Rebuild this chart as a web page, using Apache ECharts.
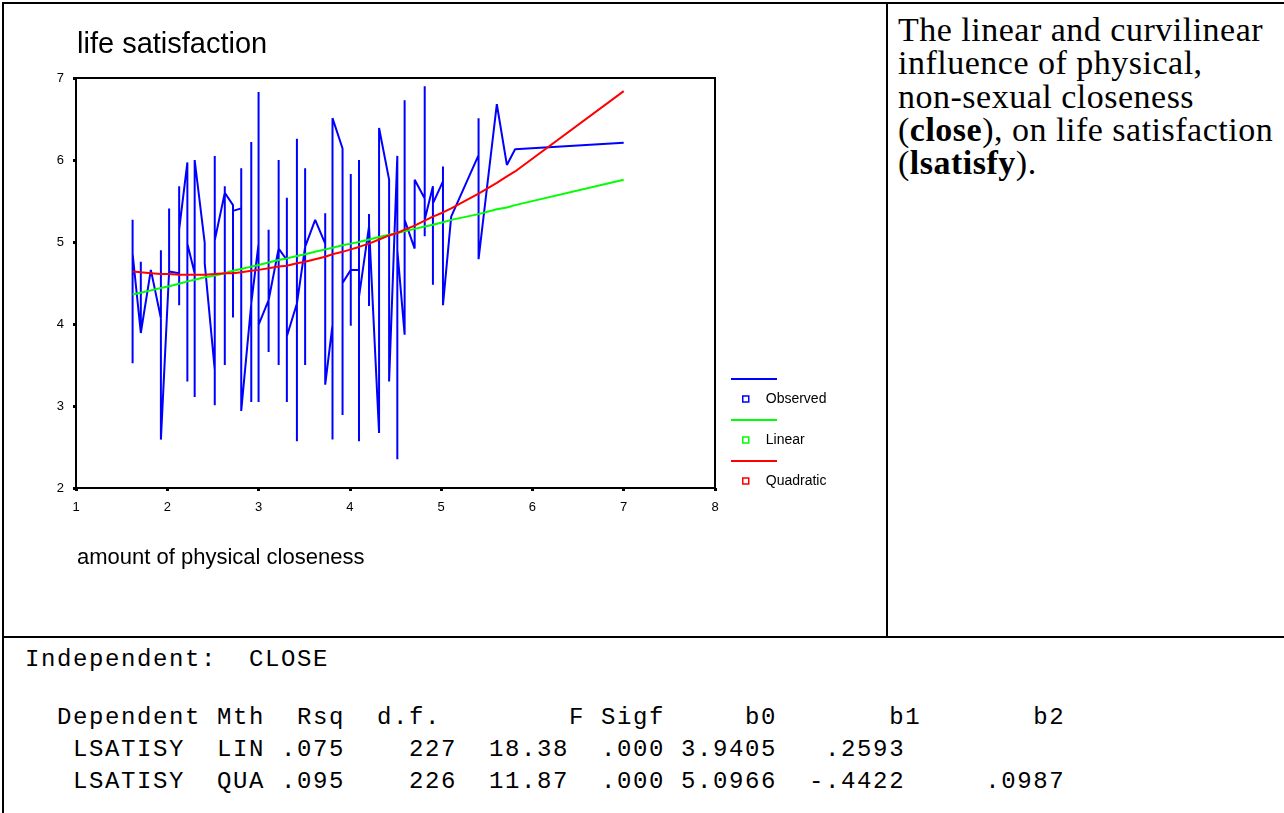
<!DOCTYPE html>
<html>
<head>
<meta charset="utf-8">
<script src="https://cdn.jsdelivr.net/npm/echarts@6/dist/echarts.min.js"></script>
<style>
    body { margin: 0; width: 1284px; height: 813px; background: #fff; position: relative; overflow: hidden; }
    #chart { position: absolute; left: 0; top: 0; width: 886px; height: 636px; }
    .rule { position: absolute; background: #000; }
    .note { position: absolute; left: 898px; top: 13px; font-family: "Liberation Serif", serif; font-size: 34px;
            line-height: 33.3px; letter-spacing: 0.5px; color: #000; white-space: nowrap; }
    .out { position: absolute; left: 25px; margin: 0; font-family: "Liberation Mono", monospace; font-size: 24px;
           letter-spacing: 1.6px; line-height: 24px; color: #000; white-space: pre; }
</style>
</head>
<body>
<div id="chart"></div>

<div class="rule" style="left:2px;top:2px;width:1282px;height:2px"></div>
<div class="rule" style="left:2px;top:2px;width:2px;height:811px"></div>
<div class="rule" style="left:886px;top:2px;width:2px;height:636px"></div>
<div class="rule" style="left:2px;top:636px;width:1282px;height:2px"></div>

<div class="note">The linear and curvilinear<br>influence of physical,<br>non-sexual closeness<br>(<b>close</b>), on life satisfaction<br>(<b>lsatisfy</b>).</div>

<div class="out" style="top:648px">Independent:  CLOSE</div>
<div class="out" style="top:706px">  Dependent Mth  Rsq  d.f.        F Sigf     b0       b1       b2</div>
<div class="out" style="top:738px">   LSATISY  LIN .075    227  18.38  .000 3.9405   .2593</div>
<div class="out" style="top:770px">   LSATISY  QUA .095    226  11.87  .000 5.0966  -.4422     .0987</div>

<script type="text/javascript">
    // observed cases, in x order (several cases share one x value)
    var observed = [
        [1.62, 5.27], [1.62, 3.52], [1.62, 4.86],
        [1.71, 3.89], [1.71, 4.76], [1.71, 3.89],
        [1.82, 4.66],
        [1.93, 4.07], [1.93, 4.90], [1.93, 2.59],
        [2.02, 4.64], [2.02, 5.41], [2.02, 4.64],
        [2.13, 4.62], [2.13, 5.68], [2.13, 4.23], [2.13, 5.15],
        [2.22, 5.97], [2.22, 3.30], [2.22, 4.98],
        [2.30, 4.62], [2.30, 3.11], [2.30, 6.00],
        [2.41, 4.99], [2.41, 4.74],
        [2.52, 3.44], [2.52, 3.01], [2.52, 6.05], [2.52, 5.02],
        [2.63, 5.60], [2.63, 5.68], [2.63, 3.50], [2.63, 5.60],
        [2.72, 5.45], [2.72, 4.08], [2.72, 5.38],
        [2.81, 5.41], [2.81, 5.90], [2.81, 2.94],
        [2.92, 4.25], [2.92, 6.22], [2.92, 3.05], [2.92, 4.25],
        [3.00, 4.98], [3.00, 6.83], [3.00, 3.05], [3.00, 3.99],
        [3.11, 4.29], [3.11, 5.15], [3.11, 3.66], [3.11, 4.29],
        [3.22, 4.92], [3.22, 6.00], [3.22, 3.50], [3.22, 4.92],
        [3.31, 4.78], [3.31, 5.54], [3.31, 3.05], [3.31, 3.85],
        [3.42, 4.25], [3.42, 6.26], [3.42, 2.57], [3.42, 4.25],
        [3.51, 4.94], [3.51, 5.90], [3.51, 3.50], [3.51, 4.94],
        [3.62, 5.27],
        [3.73, 4.98], [3.73, 5.35], [3.73, 3.26],
        [3.81, 3.99], [3.81, 2.59], [3.81, 6.51],
        [3.92, 6.14], [3.92, 2.89], [3.92, 4.50],
        [4.01, 4.66], [4.01, 5.83], [4.01, 3.98], [4.01, 4.66],
        [4.10, 4.66], [4.10, 6.00], [4.10, 2.57], [4.10, 4.33],
        [4.21, 5.19], [4.21, 5.34], [4.21, 4.22], [4.21, 5.19],
        [4.32, 2.67], [4.32, 6.39],
        [4.43, 5.76], [4.43, 3.30],
        [4.52, 6.05], [4.52, 2.35], [4.52, 4.90],
        [4.60, 3.87], [4.60, 6.73], [4.60, 5.27],
        [4.71, 4.92], [4.71, 5.76],
        [4.82, 5.53], [4.82, 6.90], [4.82, 5.07], [4.82, 5.27],
        [4.91, 5.68], [4.91, 4.48], [4.91, 5.47],
        [5.02, 5.74], [5.02, 5.92], [5.02, 4.23],
        [5.11, 5.31],
        [5.41, 6.06], [5.41, 6.51], [5.41, 4.79],
        [5.61, 6.68],
        [5.72, 5.94],
        [5.81, 6.13],
        [7.00, 6.21]
    ];

    // fitted values at each distinct x
    var fitX = [1.62, 1.71, 1.82, 1.93, 2.02, 2.13, 2.22, 2.30, 2.41, 2.52, 2.63, 2.72, 2.81, 2.92,
        3.00, 3.11, 3.22, 3.31, 3.42, 3.51, 3.62, 3.73, 3.81, 3.92, 4.01, 4.10, 4.21, 4.32, 4.43,
        4.52, 4.60, 4.71, 4.82, 4.91, 5.02, 5.11, 5.41, 5.61, 5.72, 5.81, 7.00];
    var linearFit = [4.36, 4.38, 4.41, 4.44, 4.46, 4.49, 4.52, 4.54, 4.57, 4.59, 4.62, 4.65, 4.67, 4.70,
        4.72, 4.75, 4.78, 4.80, 4.83, 4.85, 4.88, 4.91, 4.93, 4.96, 4.98, 5.00, 5.03, 5.06, 5.09,
        5.11, 5.13, 5.16, 5.19, 5.21, 5.24, 5.27, 5.34, 5.40, 5.42, 5.45, 5.76];
    var quadFit = [4.64, 4.63, 4.62, 4.61, 4.61, 4.60, 4.60, 4.60, 4.60, 4.61, 4.62, 4.62, 4.63, 4.65,
        4.66, 4.68, 4.70, 4.71, 4.74, 4.76, 4.79, 4.82, 4.85, 4.88, 4.91, 4.94, 4.98, 5.03, 5.08,
        5.11, 5.15, 5.20, 5.26, 5.31, 5.36, 5.41, 5.59, 5.72, 5.80, 5.86, 6.84];

    var xTicks = [1, 8, 1];   // min, max, step
    var yTicks = [2, 7, 1];

    function pairs(xs, ys) {
        return xs.map(function (x, i) { return [x, ys[i]]; });
    }

    var font = '"Liberation Sans", Arial, sans-serif';
    var axisCommon = {
        type: 'value',
        axisLine: { show: true, onZero: false, lineStyle: { color: '#000', width: 2 } },
        axisTick: { show: true, length: 3, lineStyle: { color: '#000', width: 3 } },
        axisLabel: { color: '#000', fontSize: 13, fontFamily: font },
        splitLine: { show: false }
    };

    var myChart = echarts.init(document.getElementById('chart'));
    myChart.setOption({
        animation: false,
        title: [{
            text: 'life satisfaction', left: 77, top: 30, padding: 0,
            textStyle: { fontFamily: font, fontSize: 29, fontWeight: 'normal', color: '#000' }
        }, {
            text: 'amount of physical closeness', left: 77, top: 547, padding: 0,
            textStyle: { fontFamily: font, fontSize: 22, fontWeight: 'normal', color: '#000' }
        }],
        grid: { left: 76, top: 78, width: 639, height: 410, show: true, borderColor: '#000', borderWidth: 2 },
        xAxis: echarts.util.merge({ min: xTicks[0], max: xTicks[1], interval: xTicks[2],
            axisLabel: { margin: 13 } }, axisCommon),
        yAxis: echarts.util.merge({ min: yTicks[0], max: yTicks[1], interval: yTicks[2],
            axisLabel: { margin: 12 } }, axisCommon),
        legend: {
            orient: 'vertical', left: 742, top: 392, padding: 0, icon: 'rect', itemWidth: 6, itemHeight: 6,
            itemGap: 27, selectedMode: false,
            textStyle: { fontFamily: font, fontSize: 14, color: '#000', lineHeight: 14, padding: [0, 0, 0, 12] },
            data: [
                { name: 'Observed', itemStyle: { color: '#fff', borderColor: '#0000ff', borderWidth: 1.5 } },
                { name: 'Linear', itemStyle: { color: '#fff', borderColor: '#00ff00', borderWidth: 1.5 } },
                { name: 'Quadratic', itemStyle: { color: '#fff', borderColor: '#ff0000', borderWidth: 1.5 } }
            ]
        },
        graphic: [
            { type: 'line', shape: { x1: 731, y1: 379, x2: 777, y2: 379 }, style: { stroke: '#0000ff', lineWidth: 2 } },
            { type: 'line', shape: { x1: 731, y1: 420, x2: 777, y2: 420 }, style: { stroke: '#00ff00', lineWidth: 2 } },
            { type: 'line', shape: { x1: 731, y1: 461, x2: 777, y2: 461 }, style: { stroke: '#ff0000', lineWidth: 2 } }
        ],
        series: [{
            name: 'Observed', type: 'line', data: observed, showSymbol: false,
            lineStyle: { color: '#0000ff', width: 2 }, itemStyle: { color: '#0000ff' }
        }, {
            name: 'Linear', type: 'line', data: pairs(fitX, linearFit), showSymbol: false,
            lineStyle: { color: '#00ff00', width: 2 }, itemStyle: { color: '#00ff00' }
        }, {
            name: 'Quadratic', type: 'line', data: pairs(fitX, quadFit), showSymbol: false,
            lineStyle: { color: '#ff0000', width: 2 }, itemStyle: { color: '#ff0000' }
        }]
    });
</script>
</body>
</html>
